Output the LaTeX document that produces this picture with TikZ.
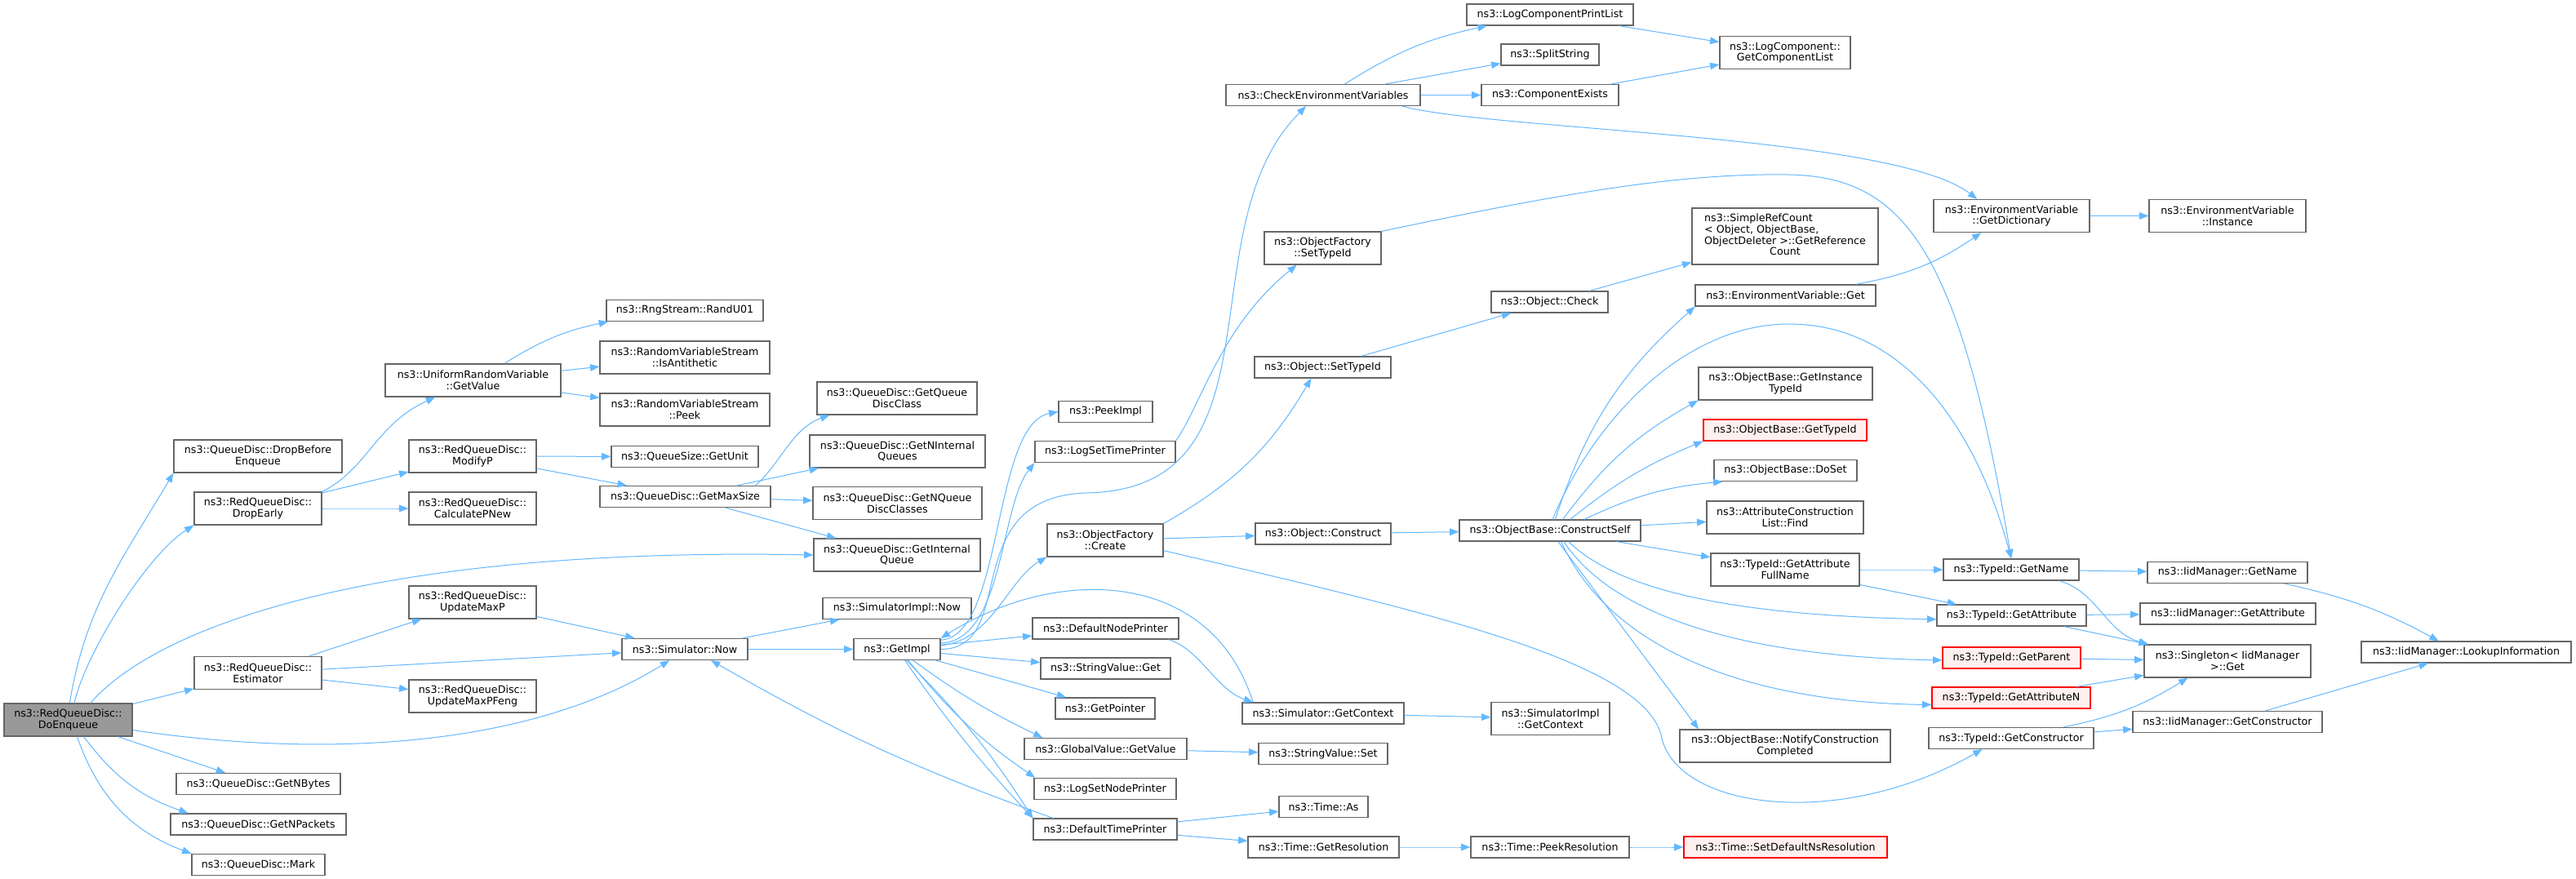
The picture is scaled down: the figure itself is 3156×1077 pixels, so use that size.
\documentclass[tikz,border=0pt]{standalone}
\usepackage{fontspec}
\setmainfont{DejaVu Sans}
\usetikzlibrary{arrows.meta}
\definecolor{edgeblue}{HTML}{63B8FF}
\definecolor{boxgrey}{HTML}{666666}
\definecolor{rootfill}{HTML}{999999}
\definecolor{warnred}{HTML}{FF0000}
\definecolor{warnfill}{HTML}{FFF0F0}
\newcommand{\callfont}{\fontsize{9.5pt}{10.3pt}\selectfont}
\begin{document}
\begin{tikzpicture}[x=0.75pt,y=-0.75pt,
    box/.style={draw=boxgrey,line width=0.9pt,fill=white,inner sep=0pt,align=center,minimum height=19.5pt,font=\callfont},
    two/.style={minimum height=30pt},
    wd/.style={minimum width=#1*0.75pt},
    root/.style={fill=rootfill},
    warn/.style={draw=warnred,fill=warnfill},
    call/.style={draw=edgeblue,line width=0.75pt,-{Triangle[length=8.5pt,width=6.5pt]}}]
                \useasboundingbox (0,0) rectangle (3156,1077);
                \fill[white] (0,0) rectangle (3156,1077);

                \node[box,two,root,wd=157] (doenq) at (83.5,882) {ns3::RedQueueDisc::\\DoEnqueue};
                \node[box,two,wd=206] (dropbefore) at (316,559) {ns3::QueueDisc::DropBefore\\Enqueue};
                \node[box,two,wd=156] (dropearly) at (316,623) {ns3::RedQueueDisc::\\DropEarly};
                \node[box,two,wd=156] (estimator) at (316,824.5) {ns3::RedQueueDisc::\\Estimator};
                \node[box,wd=201] (getnbytes) at (316.5,960.5) {ns3::QueueDisc::GetNBytes};
                \node[box,wd=215] (getnpackets) at (316.5,1010) {ns3::QueueDisc::GetNPackets};
                \node[box,wd=163] (mark) at (316.5,1059.5) {ns3::QueueDisc::Mark};

                \node[box,two,wd=215] (urv) at (579.5,466) {ns3::UniformRandomVariable\\::GetValue};
                \node[box,two,wd=156] (modifyp) at (579,559) {ns3::RedQueueDisc::\\ModifyP};
                \node[box,two,wd=156] (calcpnew) at (579,623) {ns3::RedQueueDisc::\\CalculatePNew};
                \node[box,two,wd=156] (updatemaxp) at (579,738) {ns3::RedQueueDisc::\\UpdateMaxP};
                \node[box,two,wd=156] (maxpfeng) at (579,853) {ns3::RedQueueDisc::\\UpdateMaxPFeng};

                \node[box,wd=192] (randu01) at (839,380.5) {ns3::RngStream::RandU01};
                \node[box,two,wd=208] (isanti) at (839,438) {ns3::RandomVariableStream\\::IsAntithetic};
                \node[box,two,wd=208] (peek) at (839,502) {ns3::RandomVariableStream\\::Peek};
                \node[box,wd=180] (getunit) at (839,559.5) {ns3::QueueSize::GetUnit};
                \node[box,wd=209] (getmaxsize) at (839.5,608.5) {ns3::QueueDisc::GetMaxSize};
                \node[box,wd=154] (simnow) at (839,795.5) {ns3::Simulator::Now};

                \node[box,two,wd=196] (getqdc) at (1099,488) {ns3::QueueDisc::GetQueue\\DiscClass};
                \node[box,two,wd=215] (getniq) at (1099.5,553) {ns3::QueueDisc::GetNInternal\\Queues};
                \node[box,two,wd=207] (getnqdc) at (1099.5,616.5) {ns3::QueueDisc::GetNQueue\\DiscClasses};
                \node[box,two,wd=204] (getiq) at (1099,680) {ns3::QueueDisc::GetInternal\\Queue};
                \node[box,wd=182] (simimplnow) at (1099,745.5) {ns3::SimulatorImpl::Now};
                \node[box,wd=106] (getimpl) at (1099,795.5) {ns3::GetImpl};

                \node[box,wd=115] (peekimpl) at (1354.5,504.5) {ns3::PeekImpl};
                \node[box,wd=172] (logsettime) at (1354,553.5) {ns3::LogSetTimePrinter};
                \node[box,two,wd=142] (ofcreate) at (1354,662) {ns3::ObjectFactory\\::Create};
                \node[box,wd=179] (defnode) at (1354.5,770) {ns3::DefaultNodePrinter};
                \node[box,wd=159] (stringget) at (1354.5,819) {ns3::StringValue::Get};
                \node[box,wd=122] (getpointer) at (1354,868) {ns3::GetPointer};
                \node[box,wd=199] (globalget) at (1354.5,917.5) {ns3::GlobalValue::GetValue};
                \node[box,wd=174] (logsetnode) at (1354,966.5) {ns3::LogSetNodePrinter};
                \node[box,wd=176] (deftimeprinter) at (1354,1016) {ns3::DefaultTimePrinter};

                \node[box,wd=238] (checkenv) at (1621,116.5) {ns3::CheckEnvironmentVariables};
                \node[box,two,wd=143] (ofsettypeid) at (1620.5,304) {ns3::ObjectFactory\\::SetTypeId};
                \node[box,wd=167] (objsettypeid) at (1620.5,450) {ns3::Object::SetTypeId};
                \node[box,wd=166] (objconstruct) at (1621,654) {ns3::Object::Construct};
                \node[box,wd=198] (simgetctx) at (1621,874) {ns3::Simulator::GetContext};
                \node[box,wd=158] (stringset) at (1621,923.5) {ns3::StringValue::Set};
                \node[box,wd=109] (timeas) at (1621.5,988.5) {ns3::Time::As};
                \node[box,wd=185] (getres) at (1621.5,1038) {ns3::Time::GetResolution};

                \node[box,wd=204] (lpl) at (1899,18) {ns3::LogComponentPrintList};
                \node[box,wd=120] (splitstring) at (1899,67) {ns3::SplitString};
                \node[box,wd=168] (compexists) at (1899,116.5) {ns3::ComponentExists};
                \node[box,wd=143] (objcheck) at (1898.5,370) {ns3::Object::Check};
                \node[box,wd=222] (cself) at (1899,650) {ns3::ObjectBase::ConstructSelf};
                \node[box,two,wd=145] (simimplgetctx) at (1899.5,880.5) {ns3::SimulatorImpl\\::GetContext};
                \node[box,wd=194] (peekres) at (1899,1038) {ns3::Time::PeekResolution};

                \node[box,two,wd=160] (getcomplist) at (2187,64.5) {ns3::LogComponent::\\GetComponentList};
                \node[box,wd=228,minimum height=51.75pt] (simplerc) at (2187,289.5) {\begin{tabular}{@{}l@{}}ns3::SimpleRefCount\\< Object, ObjectBase,\\\multicolumn{1}{@{}c@{}}{ObjectDeleter >::GetReference}\\\multicolumn{1}{@{}c@{}}{Count}\end{tabular}};
                \node[box,wd=221] (envget) at (2187.5,362) {ns3::EnvironmentVariable::Get};
                \node[box,two,wd=213] (getinsttypeid) at (2187.5,470) {ns3::ObjectBase::GetInstance\\TypeId};
                \node[box,warn,wd=200] (gettypeid) at (2187,527) {ns3::ObjectBase::GetTypeId};
                \node[box,wd=175] (doset) at (2187.5,576.5) {ns3::ObjectBase::DoSet};
                \node[box,two,wd=192] (acfind) at (2187,634) {ns3::AttributeConstruction\\List::Find};
                \node[box,two,wd=182] (getattrfull) at (2187,698) {ns3::TypeId::GetAttribute\\FullName};
                \node[box,two,wd=258] (notifycc) at (2187,914) {ns3::ObjectBase::NotifyConstruction\\Completed};
                \node[box,warn,wd=249] (setdefns) at (2187.5,1038) {ns3::Time::SetDefaultNsResolution};

                \node[box,two,wd=191] (getdict) at (2464.5,264.5) {ns3::EnvironmentVariable\\::GetDictionary};
                \node[box,wd=166] (getname) at (2464,698) {ns3::TypeId::GetName};
                \node[box,wd=183] (getattr) at (2464.5,754) {ns3::TypeId::GetAttribute};
                \node[box,warn,wd=169] (getparent) at (2464.5,806) {ns3::TypeId::GetParent};
                \node[box,warn,wd=194] (getattrn) at (2464,855) {ns3::TypeId::GetAttributeN};
                \node[box,wd=202] (getctor) at (2464,904.5) {ns3::TypeId::GetConstructor};

                \node[box,two,wd=192] (instance) at (2729,264.5) {ns3::EnvironmentVariable\\::Instance};
                \node[box,wd=196] (iidgetname) at (2729,701.5) {ns3::IidManager::GetName};
                \node[box,wd=215] (iidgetattr) at (2729.5,752) {ns3::IidManager::GetAttribute};
                \node[box,two,wd=204] (singleton) at (2729,810) {ns3::Singleton< IidManager\\ >::Get};
                \node[box,wd=232] (iidgetctor) at (2729,884.5) {ns3::IidManager::GetConstructor};
                \node[box,wd=257] (lookup) at (3021.5,799) {ns3::IidManager::LookupInformation};

                \foreach \from/\to/\pos in {doenq/estimator/0,doenq/getnbytes/0,doenq.-47/getnpackets.171/-17,
                    doenq.-62/mark.north west/-25,dropearly/modifyp/0,dropearly/calcpnew/0,urv/randu01/10,
                    urv/isanti/0,urv/peek/0,modifyp/getunit/0,modifyp/getmaxsize/0,getmaxsize/getniq/0,
                    getmaxsize/getnqdc/0,getmaxsize/getiq/0,estimator/updatemaxp/0,estimator/simnow/0,
                    estimator/maxpfeng/0,updatemaxp/simnow/0,simnow/simimplnow/0,simnow/getimpl/0,
                    getimpl/defnode/0,getimpl/stringget/0,getimpl/getpointer/0,getimpl.-35/globalget.170/-5,
                    getimpl.-45/logsetnode.171/-8,getimpl.-50/deftimeprinter.north west/6,
                    getimpl.-55/deftimeprinter.north west/-4,deftimeprinter.168/simnow.-23/5,
                    deftimeprinter/timeas/0,deftimeprinter/getres/0,globalget/stringset/0,
                    simgetctx/simimplgetctx/0,getres/peekres/0,peekres/setdefns/0,checkenv.27/lpl.190/10,
                    checkenv/splitstring/0,checkenv/compexists/0,lpl/getcomplist/0,compexists/getcomplist/0,
                    ofcreate.north east/objsettypeid.224/-15,ofcreate/objconstruct/0,objsettypeid/objcheck/0,
                    objcheck/simplerc/0,objconstruct/cself/0,cself/getattrfull/0,cself/acfind/0,
                    cself.18/doset.190/10,cself.29/gettypeid.south west/8,cself.41/getinsttypeid.south west/12,
                    cself.65/envget.187/15,cself.-54/notifycc.169/0,getattrfull/getname/0,getattrfull/getattr/0,
                    getname/iidgetname/0,getattr/iidgetattr/0,getattr/singleton/0,getparent/singleton/0,
                    getattrn/singleton/0,getctor.12/singleton.203/-10,getctor/iidgetctor/0,
                    iidgetname.-11/lookup.158/8,iidgetctor/lookup/0,envget.9/getdict.209/-12,getdict/instance/0}
                  \draw[call] (\from) to [bend left=\pos] (\to);

                \draw[call] (doenq.85) .. controls (105,742) and (152,682) .. (dropbefore.south west);
                \draw[call] (doenq.70) .. controls (105,800) and (180,680) .. (dropearly.south west);
                \draw[call] (doenq.37) .. controls (190,770) and (450,670) .. (getiq.west);
                \draw[call] (doenq.-9) .. controls (400,930) and (650,915) .. (simnow.216);
                \draw[call] (dropearly.north east) .. controls (450,575) and (460,520) .. (urv.204);
                \draw[call] (getmaxsize.9) .. controls (955,570) and (970,525) .. (getqdc.194);
                \draw[call] (getimpl.12) .. controls (1230,780) and (1215,520) .. (peekimpl.west);
                \draw[call] (getimpl.8) .. controls (1230,785) and (1225,620) .. (logsettime.south west);
                \draw[call] (getimpl.5) .. controls (1215,785) and (1235,710) .. (ofcreate.south west);
                \draw[call] (getimpl.east) .. controls (1250,795) and (1170,610) .. (1330,604)
                  .. controls (1580,600) and (1450,280) .. (checkenv.213);
                \draw[call] (logsettime.north east) .. controls (1470,500) and (1495,400) .. (ofsettypeid.213);
                \draw[call] (ofcreate.-10) .. controls (1750,750) and (2010,810) .. (2035,900)
                  .. controls (2050,990) and (2250,1020) .. (getctor.201);
                \draw[call] (ofsettypeid.north east) .. controls (1900,240) and (2050,212) .. (2190,214)
                  .. controls (2330,216) and (2400,300) .. (getname.north);
                \draw[call] (cself.77) .. controls (1950,520) and (2060,397) .. (2192,397)
                  .. controls (2330,397) and (2420,520) .. (getname.north);
                \draw[call] (cself.-31) .. controls (1990,730) and (2150,755) .. (getattr.183);
                \draw[call] (cself.-39) .. controls (1980,760) and (2150,805) .. (getparent.182);
                \draw[call] (cself.-45) .. controls (1970,790) and (2130,860) .. (getattrn.185);
                \draw[call] (checkenv.-8) .. controls (1830,160) and (2320,165) .. (getdict.154);
                \draw[call] (getname.-13) .. controls (2570,725) and (2580,775) .. (singleton.168);
                \draw[call] (simgetctx.171) .. controls (1485,700) and (1300,690) .. (getimpl.north east);
                \draw[call] (defnode.-10) .. controls (1470,795) and (1490,845) .. (simgetctx.171);
            \end{tikzpicture}
\end{document}
